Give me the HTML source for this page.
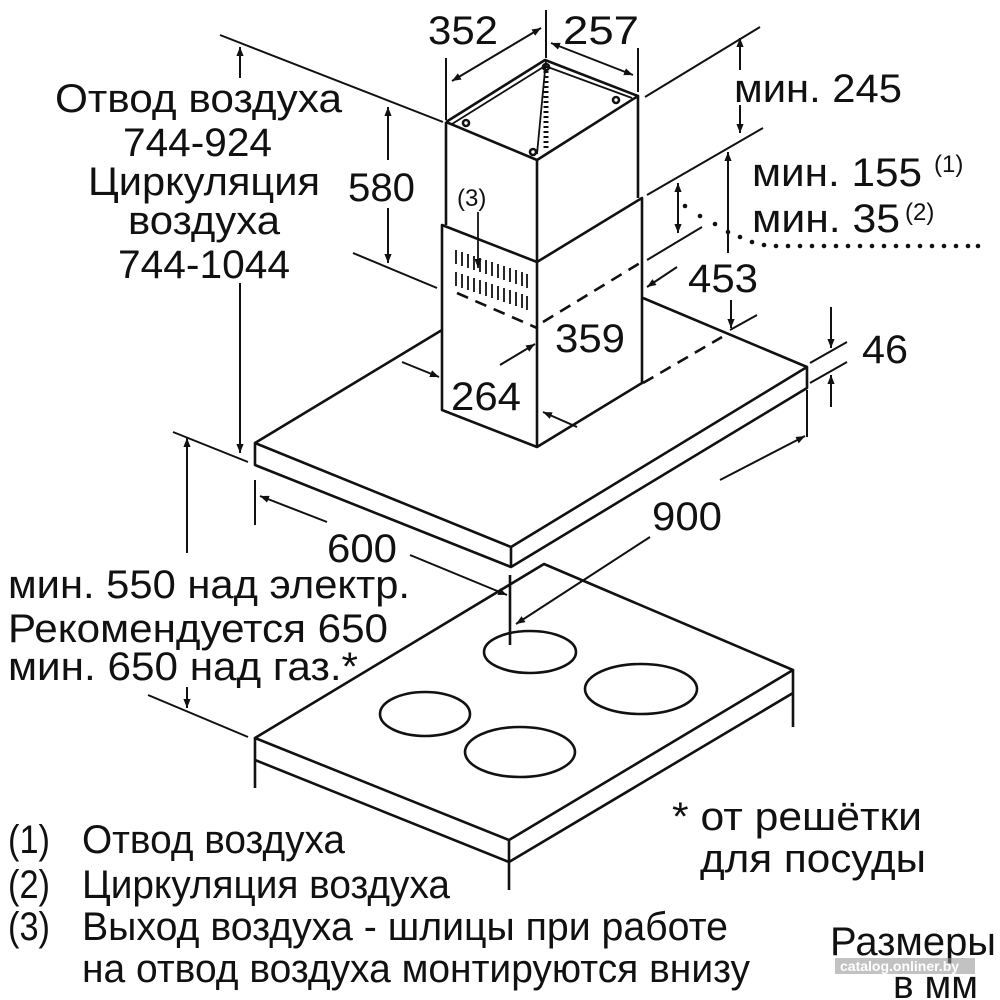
<!DOCTYPE html>
<html><head><meta charset="utf-8"><style>
html,body{margin:0;padding:0;background:#fff}
svg{display:block}
text{font-family:"Liberation Sans",sans-serif;fill:#111}
</style></head><body>
<svg width="1000" height="1000" viewBox="0 0 1000 1000" xmlns="http://www.w3.org/2000/svg">
<defs>
<marker id="a" viewBox="0 0 10 10" refX="10" refY="5" markerWidth="9" markerHeight="9" orient="auto-start-reverse" markerUnits="userSpaceOnUse"><path d="M0,1 L10,5 L0,9 z" fill="#111"/></marker>
</defs>
<g stroke="#111" stroke-width="2.6" fill="none" stroke-linejoin="round">
<path d="M255,443 L442,330"/>
<path d="M643,298 L807,367"/>
<path d="M255,443 L511,547 L807,367 L807,388 L511,567 L255,465 Z" fill="#fff"/>
<path d="M511,547 L511,567"/>
<path d="M643,383 L722,337" stroke-dasharray="12,8"/>
<path d="M442,225 L537,262 L642,198 L642,383 L537,447 L442,410 Z" fill="#fff"/>
<path d="M537,262 L537,447"/>
<path d="M457,293 L537,328 M543,322 L640,263" stroke-dasharray="12,8"/>
<path d="M446,122 L537,160 L638,96 L638,198 M446,122 L446,225 M537,160 L537,262"/>
<path d="M446,122 L545,60 L638,96"/>
<path d="M452,124 L545,66 L632,98 M537,154 L546,60" stroke-width="1.8"/>
<path d="M546,66 L546,148" stroke-width="5" stroke-dasharray="2,3"/>
<circle cx="466" cy="123" r="3"/><circle cx="546" cy="67" r="3"/><circle cx="616" cy="100" r="3"/><circle cx="533" cy="152" r="3"/>
<g stroke-width="1.8">
<path d="M456,250 L456,264 M462,252 L462,266 M468,254 L468,268 M474,256 L474,270 M480,258 L480,272 M486,260 L486,274 M492,262 L492,276 M498,264 L498,278 M504,266 L504,280 M510,268 L510,282 M516,270 L516,284 M522,272 L522,286 M527,274 L527,288"/>
<path d="M456,272 L456,286 M462,274 L462,288 M468,276 L468,290 M474,278 L474,292 M480,280 L480,294 M486,282 L486,296 M492,284 L492,298 M498,286 L498,300 M504,288 L504,302 M510,290 L510,304 M516,292 L516,306 M522,294 L522,308 M527,296 L527,310"/>
</g>
<path d="M478,212 L478,268" stroke-width="1.8" marker-end="url(#a)"/>
<path d="M255,738 L544,564 L793,670 L509,840 Z" fill="#fff"/>
<path d="M255,738 L255,788 M255,760 L509,862 L793,693 M509,840 L509,890 M793,670 L793,727"/>
<ellipse cx="530" cy="652" rx="46" ry="21"/>
<ellipse cx="641" cy="689" rx="56" ry="25"/>
<ellipse cx="425" cy="714" rx="45" ry="22"/>
<ellipse cx="520" cy="752" rx="55" ry="25"/>
<path d="M510,575 L510,645"/>
</g>
<g stroke="#111" stroke-width="2" fill="none">
<path d="M446,58 L446,120 M546,10 L546,58 M638,48 L638,92"/>
<path d="M452,81 L541,28" marker-start="url(#a)" marker-end="url(#a)"/>
<path d="M551,43 L633,75" marker-start="url(#a)" marker-end="url(#a)"/>
<path d="M220,35 L443,122 M353,253 L437,288 M173,432 L248,462 M148,695 L248,737"/>
<path d="M240,78 L240,47" marker-end="url(#a)"/>
<path d="M240,283 L240,453" marker-end="url(#a)"/>
<path d="M388,160 L388,107" marker-end="url(#a)"/>
<path d="M388,208 L388,263" marker-end="url(#a)"/>
<path d="M645,97 L760,27 M647,195 L763,128 M647,260 L702,227 M730,330 L757,315"/>
<path d="M740,70 L740,38" marker-end="url(#a)"/>
<path d="M740,105 L740,133" marker-end="url(#a)"/>
<path d="M728,253 L728,152" marker-end="url(#a)"/>
<path d="M731,300 L731,328" marker-end="url(#a)"/>
<path d="M678,183 L678,233" marker-start="url(#a)" marker-end="url(#a)"/>
<path d="M677,267 L647,287" marker-end="url(#a)"/>
<path d="M402,362 L439,377" marker-end="url(#a)"/>
<path d="M500,365 L535,344" marker-end="url(#a)"/>
<path d="M577,427 L543,412" marker-end="url(#a)"/>
<path d="M810,363 L847,342 M810,383 L847,362"/>
<path d="M831,307 L831,348" marker-end="url(#a)"/>
<path d="M831,407 L831,375" marker-end="url(#a)"/>
<path d="M807,390 L807,437 M255,480 L255,525"/>
<path d="M720,480 L805,436" marker-end="url(#a)"/>
<path d="M327,522 L260,496" marker-end="url(#a)"/>
<path d="M410,555 L507,595" marker-end="url(#a)"/>
<path d="M650,537 L516,624" marker-end="url(#a)"/>
<path d="M187,553 L187,438" marker-end="url(#a)"/>
<path d="M187,687 L187,708" marker-end="url(#a)"/>
</g>
<g fill="#111">
<circle cx="685" cy="206" r="2.3"/><circle cx="700" cy="216" r="2.3"/><circle cx="715" cy="224" r="2.3"/><circle cx="728" cy="232" r="2.3"/><circle cx="740" cy="237" r="2.3"/>
<circle cx="752" cy="242" r="2.3"/><circle cx="764" cy="245" r="2.3"/>
<circle cx="776" cy="246" r="2.3"/><circle cx="788" cy="246" r="2.3"/><circle cx="800" cy="246" r="2.3"/><circle cx="812" cy="246" r="2.3"/><circle cx="824" cy="246" r="2.3"/><circle cx="836" cy="246" r="2.3"/><circle cx="848" cy="246" r="2.3"/><circle cx="860" cy="246" r="2.3"/><circle cx="872" cy="246" r="2.3"/><circle cx="884" cy="246" r="2.3"/><circle cx="896" cy="246" r="2.3"/><circle cx="908" cy="246" r="2.3"/><circle cx="920" cy="246" r="2.3"/><circle cx="932" cy="246" r="2.3"/><circle cx="944" cy="246" r="2.3"/><circle cx="956" cy="246" r="2.3"/><circle cx="968" cy="246" r="2.3"/><circle cx="978" cy="246" r="2.3"/>
</g>
<g font-size="40" lengthAdjust="spacingAndGlyphs">
<text x="428" y="44" textLength="70" lengthAdjust="spacingAndGlyphs">352</text>
<text x="563" y="44" textLength="76" lengthAdjust="spacingAndGlyphs">257</text>
<text x="55" y="112" textLength="287" lengthAdjust="spacingAndGlyphs">Отвод воздуха</text>
<text x="123" y="156" textLength="149" lengthAdjust="spacingAndGlyphs">744-924</text>
<text x="88" y="195" textLength="232" lengthAdjust="spacingAndGlyphs">Циркуляция</text>
<text x="128" y="234" textLength="152" lengthAdjust="spacingAndGlyphs">воздуха</text>
<text x="118" y="278" textLength="172" lengthAdjust="spacingAndGlyphs">744-1044</text>
<text x="348" y="201" textLength="67" lengthAdjust="spacingAndGlyphs">580</text>
<text x="734" y="102" textLength="168" lengthAdjust="spacingAndGlyphs">мин. 245</text>
<text x="752" y="186" textLength="170" lengthAdjust="spacingAndGlyphs">мин. 155</text>
<text x="934" y="172" font-size="24">(1)</text>
<text x="752" y="232" textLength="148" lengthAdjust="spacingAndGlyphs">мин. 35</text>
<text x="905" y="220" font-size="24">(2)</text>
<text x="688" y="292" textLength="70" lengthAdjust="spacingAndGlyphs">453</text>
<text x="555" y="352" textLength="70" lengthAdjust="spacingAndGlyphs">359</text>
<text x="451" y="410" textLength="70" lengthAdjust="spacingAndGlyphs">264</text>
<text x="862" y="363" textLength="46" lengthAdjust="spacingAndGlyphs">46</text>
<text x="652" y="530" textLength="70" lengthAdjust="spacingAndGlyphs">900</text>
<text x="327" y="562" textLength="70" lengthAdjust="spacingAndGlyphs">600</text>
<text x="8" y="598" textLength="402" lengthAdjust="spacingAndGlyphs">мин. 550 над электр.</text>
<text x="8" y="642" textLength="380" lengthAdjust="spacingAndGlyphs">Рекомендуется 650</text>
<text x="8" y="680" textLength="350" lengthAdjust="spacingAndGlyphs">мин. 650 над газ.*</text>
<text x="672" y="830" textLength="250" lengthAdjust="spacingAndGlyphs">* от решётки</text>
<text x="700" y="872" textLength="226" lengthAdjust="spacingAndGlyphs">для посуды</text>
<text x="830" y="955" textLength="166" lengthAdjust="spacingAndGlyphs">Размеры</text>
<text x="893" y="998" textLength="85" lengthAdjust="spacingAndGlyphs">в мм</text>
<text x="8" y="853" textLength="42" lengthAdjust="spacingAndGlyphs">(1)</text>
<text x="82" y="853" textLength="263" lengthAdjust="spacingAndGlyphs">Отвод воздуха</text>
<text x="8" y="898" textLength="42" lengthAdjust="spacingAndGlyphs">(2)</text>
<text x="82" y="898" textLength="368" lengthAdjust="spacingAndGlyphs">Циркуляция воздуха</text>
<text x="8" y="940" textLength="42" lengthAdjust="spacingAndGlyphs">(3)</text>
<text x="82" y="940" textLength="646" lengthAdjust="spacingAndGlyphs">Выход воздуха - шлицы при работе</text>
<text x="82" y="982" textLength="668" lengthAdjust="spacingAndGlyphs">на отвод воздуха монтируются внизу</text>
<text x="457" y="206" font-size="24">(3)</text>
</g>
<rect x="835" y="958" width="140" height="16" fill="#9a9a9a" opacity="0.6"/>
<text x="840" y="971" font-size="14" font-weight="bold" style="fill:#fff">catalog.onliner.by</text>
</svg>
</body></html>
